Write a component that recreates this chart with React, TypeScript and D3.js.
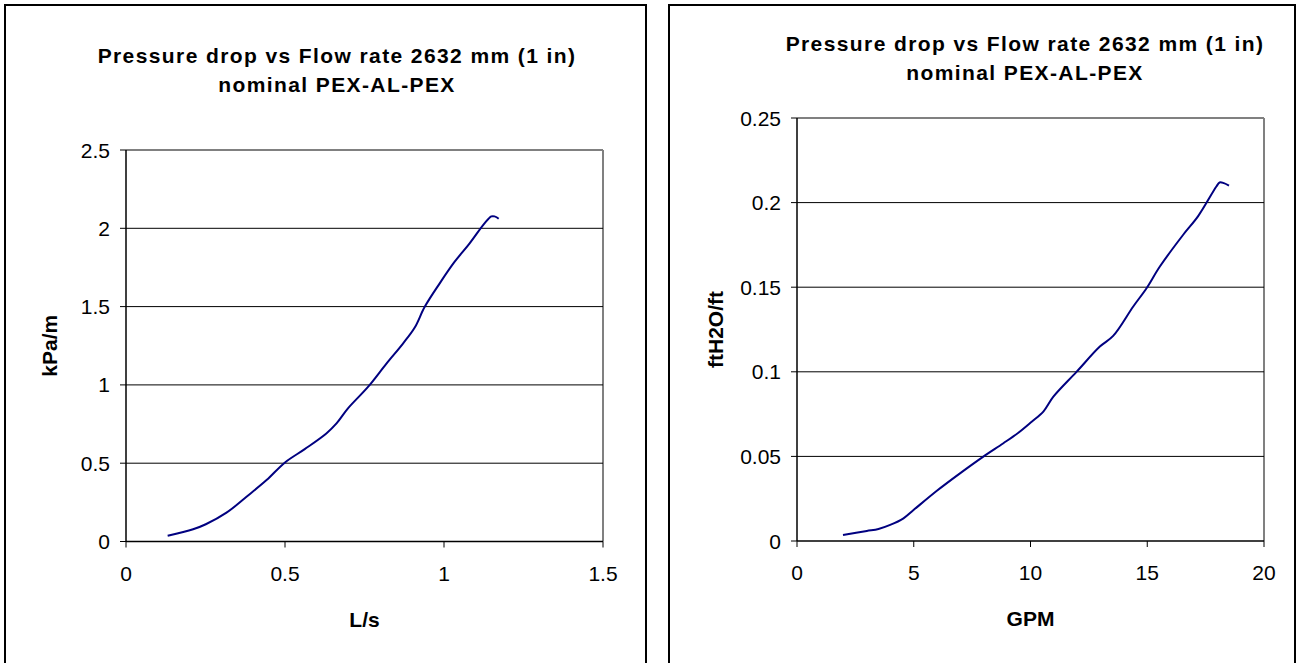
import React from "react";
import * as d3 from "d3";

// ---- Data ----
const flowLs: number[] = [0.131, 0.211, 0.251, 0.316, 0.379, 0.442, 0.5, 0.562, 0.63, 0.662, 0.698, 0.761, 0.819, 0.871, 0.908, 0.939, 0.986, 1.033, 1.08, 1.128, 1.149, 1.159, 1.172];
const dropKPa: number[] = [0.037, 0.078, 0.11, 0.184, 0.286, 0.392, 0.505, 0.59, 0.69, 0.754, 0.85, 0.987, 1.136, 1.264, 1.366, 1.497, 1.647, 1.785, 1.902, 2.033, 2.076, 2.076, 2.061];

const flowGPM: number[] = [1.97, 2.99, 3.49, 3.99, 4.56, 4.99, 5.99, 6.98, 7.98, 8.84, 9.48, 10.05, 10.55, 10.98, 11.98, 12.97, 13.54, 14.4, 14.97, 15.54, 16.54, 17.18, 17.96, 18.1, 18.28, 18.5];
const dropFt: number[] = [0.0035, 0.0059, 0.0071, 0.0095, 0.0134, 0.0183, 0.0297, 0.04, 0.0499, 0.0578, 0.064, 0.0705, 0.0765, 0.0853, 0.1001, 0.1149, 0.1212, 0.1386, 0.1494, 0.1622, 0.181, 0.192, 0.2095, 0.2119, 0.2115, 0.21];

const xTicksLeft: number[] = [0, 0.5, 1, 1.5];
const yTicksLeft: number[] = [0, 0.5, 1, 1.5, 2, 2.5];
const xTicksRight: number[] = [0, 5, 10, 15, 20];
const yTicksRight: number[] = [0, 0.05, 0.1, 0.15, 0.2, 0.25];

const titleLines: string[] = ["Pressure drop vs Flow rate 2632 mm (1 in)", "nominal PEX-AL-PEX"];
const xTitleLeft = "L/s";
const yTitleLeft = "kPa/m";
const xTitleRight = "GPM";
const yTitleRight = "ftH2O/ft";

const FONT = "'Liberation Sans', Arial, sans-serif";

type ChartProps = {
  frame: [number, number, number, number];
  plot: { left: number; right: number; top: number; bottom: number };
  xDomain: [number, number];
  yDomain: [number, number];
  xTicks: number[];
  yTicks: number[];
  xs: number[];
  ys: number[];
  titleX: number;
  titleY: number;
  xTitle: string;
  yTitle: string;
  yTitleX: number;
};

function Chart(p: ChartProps) {
  const x = d3.scaleLinear().domain(p.xDomain).range([p.plot.left, p.plot.right]);
  const y = d3.scaleLinear().domain(p.yDomain).range([p.plot.bottom, p.plot.top]);
  const pts: [number, number][] = p.xs.map((v, i) => [v, p.ys[i]]);
  const line = d3
    .line<[number, number]>()
    .x((d) => x(d[0]))
    .y((d) => y(d[1]))
    .curve(d3.curveCatmullRom.alpha(0.5));
  const [fx, fy, fw, fh] = p.frame;
  const fmt = (v: number) => String(v);
  const midX = (p.plot.left + p.plot.right) / 2;
  const midY = (p.plot.top + p.plot.bottom) / 2;
  return (
    <g>
      <rect x={fx} y={fy} width={fw} height={fh} fill="#fff" stroke="#000" strokeWidth={2} />
      {/* plot border (top/right gray) */}
      <line x1={p.plot.left} x2={p.plot.right} y1={p.plot.top} y2={p.plot.top} stroke="#808080" strokeWidth={2} />
      <line x1={p.plot.right} x2={p.plot.right} y1={p.plot.top} y2={p.plot.bottom} stroke="#808080" strokeWidth={2} />
      {/* gridlines */}
      {p.yTicks.filter((t) => t !== p.yDomain[0] && t !== p.yDomain[1]).map((t) => (
        <line key={"g" + t} x1={p.plot.left} x2={p.plot.right} y1={y(t)} y2={y(t)} stroke="#000" strokeWidth={1} />
      ))}
      {/* y axis */}
      <line x1={p.plot.left} x2={p.plot.left} y1={p.plot.top} y2={p.plot.bottom} stroke="#000" strokeWidth={1.5} />
      {p.yTicks.map((t) => (
        <g key={"y" + t}>
          <line x1={p.plot.left - 6} x2={p.plot.left} y1={y(t)} y2={y(t)} stroke="#000" strokeWidth={1} />
          <text x={p.plot.left - 16} y={y(t) + 7.5} textAnchor="end" fontSize={21} fontFamily={FONT} fill="#000">
            {fmt(t)}
          </text>
        </g>
      ))}
      {/* x axis */}
      <line x1={p.plot.left} x2={p.plot.right} y1={p.plot.bottom} y2={p.plot.bottom} stroke="#000" strokeWidth={1.5} />
      {p.xTicks.map((t) => (
        <g key={"x" + t}>
          <line x1={x(t)} x2={x(t)} y1={p.plot.bottom} y2={p.plot.bottom + 6} stroke="#000" strokeWidth={1} />
          <text x={x(t)} y={p.plot.bottom + 39} textAnchor="middle" fontSize={21} fontFamily={FONT} fill="#000">
            {fmt(t)}
          </text>
        </g>
      ))}
      {/* series */}
      <path d={line(pts) || ""} fill="none" stroke="#000080" strokeWidth={2} />
      {/* titles */}
      {titleLines.map((s, i) => (
        <text key={"t" + i} x={p.titleX} y={p.titleY + i * 29} textAnchor="middle" fontSize={21} fontWeight="bold" fontFamily={FONT} letterSpacing={1.4} fill="#000">
          {s}
        </text>
      ))}
      <text x={midX} y={p.plot.bottom + 85} textAnchor="middle" fontSize={21} fontWeight="bold" fontFamily={FONT} fill="#000">
        {p.xTitle}
      </text>
      <text transform={`translate(${p.yTitleX},${midY}) rotate(-90)`} textAnchor="middle" fontSize={21} fontWeight="bold" fontFamily={FONT} fill="#000">
        {p.yTitle}
      </text>
    </g>
  );
}

export default function App() {
  return (
    <svg width={1298} height={663} style={{ position: "absolute", left: 0, top: 0, background: "#fff" }}>
      <Chart
        frame={[5, 5, 641, 670]}
        plot={{ left: 126, right: 603, top: 150, bottom: 541.5 }}
        xDomain={[0, 1.5]}
        yDomain={[0, 2.5]}
        xTicks={xTicksLeft}
        yTicks={yTicksLeft}
        xs={flowLs}
        ys={dropKPa}
        titleX={337}
        titleY={63}
        xTitle={xTitleLeft}
        yTitle={yTitleLeft}
        yTitleX={57}
      />
      <Chart
        frame={[669, 5, 626, 670]}
        plot={{ left: 797, right: 1264, top: 118, bottom: 541 }}
        xDomain={[0, 20]}
        yDomain={[0, 0.25]}
        xTicks={xTicksRight}
        yTicks={yTicksRight}
        xs={flowGPM}
        ys={dropFt}
        titleX={1025}
        titleY={51}
        xTitle={xTitleRight}
        yTitle={yTitleRight}
        yTitleX={723}
      />
    </svg>
  );
}
